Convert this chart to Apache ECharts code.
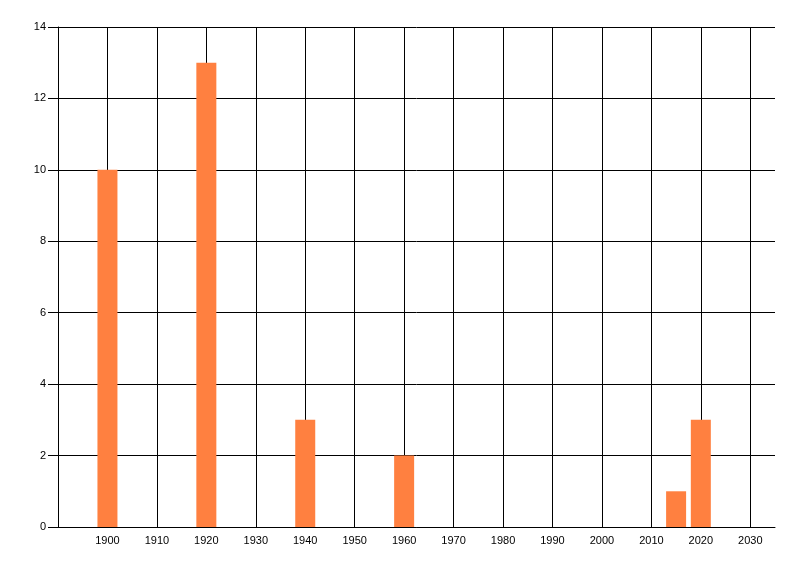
<!DOCTYPE html>
<html>
<head>
<meta charset="utf-8">
<script src="https://cdn.jsdelivr.net/npm/echarts@6/dist/echarts.min.js"></script>
<style>
  html, body { margin: 0; padding: 0; background: #fff; }
  #chart { width: 800px; height: 576px; }
</style>
</head>
<body>
<div id="chart"></div>
<script>
const years = [1900, 1920, 1940, 1960, 2015, 2020];
const counts = [10, 13, 3, 2, 1, 3];

const chart = echarts.init(document.getElementById('chart'));

chart.setOption({
  animation: false,
  grid: {
    left: 58,
    right: 25,
    top: 27,
    bottom: 49,
    containLabel: false
  },
  xAxis: {
    type: 'value',
    min: 1890,
    max: 2035,
    interval: 10,
    axisLine: { lineStyle: { color: '#000', width: 1 } },
    axisTick: { show: false },
    axisLabel: {
      color: '#000',
      fontFamily: 'Liberation Sans, Arial, sans-serif',
      fontSize: 11,
      margin: 8,
      showMinLabel: false,
      showMaxLabel: false,
      formatter: v => String(v)
    },
    splitLine: {
      show: true,
      showMinLine: false,
      showMaxLine: false,
      lineStyle: { color: '#000', width: 1 }
    }
  },
  yAxis: {
    type: 'value',
    min: 0,
    max: 14,
    interval: 2,
    axisLine: { show: true, lineStyle: { color: '#000', width: 1 } },
    axisTick: { show: true, length: 10, lineStyle: { color: '#000' } },
    axisLabel: {
      color: '#000',
      fontFamily: 'Liberation Sans, Arial, sans-serif',
      fontSize: 11,
      margin: 12
    },
    splitLine: { show: true, lineStyle: { color: '#000', width: 1 } }
  },
  series: [
    {
      type: 'bar',
      barWidth: 20,
      itemStyle: { color: '#ff8040' },
      data: years.map((y, i) => [y, counts[i]])
    }
  ]
});
</script>
</body>
</html>
